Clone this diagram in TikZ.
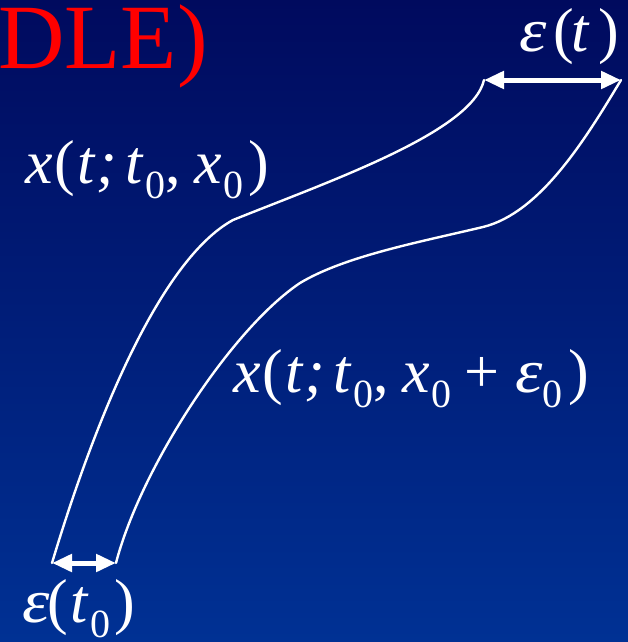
\RequirePackage{fix-cm}
\documentclass[tikz,border=0pt]{standalone}
\usepackage{fontspec}
\setmainfont{Liberation Serif}
\usetikzlibrary{arrows.meta}
\definecolor{bgtop}{RGB}{0,10,94}
\definecolor{bgbot}{RGB}{0,49,148}
\newcommand\vi[1]{\textit{#1}}
\newcommand\zs{\raisebox{-15pt}{\fontsize{40}{40}\selectfont 0}}
\newcommand\ep{\makebox[29pt][l]{\scalebox{1.12}[1]{\textit{ε}}}}
\tikzset{
  curve/.style={draw=white, line width=2.4pt, line join=round, line cap=round},
  width/.style={draw=white, line width=5pt, {Triangle[length=20pt,width=17pt]}-{Triangle[length=20pt,width=17pt]}},
  lab/.style={text=white, inner sep=0pt, font=\fontsize{62}{74}\selectfont},
}
\begin{document}
\begin{tikzpicture}[x=1pt,y=-1pt]
\shade[top color=bgtop, bottom color=bgbot] (0,0) rectangle (628,642);
\useasboundingbox (0,0) rectangle (628,642);
\node[anchor=base east, inner sep=0pt, text=red, font=\fontsize{92}{100}\selectfont] (title) at (208,69) {DLE)};
% end points
\coordinate (a0) at (52,563);
\coordinate (b0) at (116,563);
\coordinate (a1) at (484,80);
\coordinate (b1) at (621,80);
\coordinate (am) at (233,220);
\coordinate (bm) at (300,283);
\coordinate (bn) at (483,227);
% trajectories
\draw[curve] (a0) .. controls (95,420) and (160,260) .. (am)
             .. controls (330,181) and (472,132) .. (a1);
\draw[curve] (b0) .. controls (140,470) and (230,330) .. (bm)
             .. controls (345,256) and (420,242) .. (bn)
             .. controls (540,213) and (585,140) .. (b1);
% widths
\draw[width] (a0) -- (b0);
\draw[width] (a1) -- (b1);
% labels
\node[lab, anchor=base west] (l1) at (25,183) {\vi{x}\hspace{1.5pt}(\hspace{3pt}\vi{t}\vi{;}\hspace{9pt}\vi{t}\hspace{1.3pt}\zs,\hspace{13.5pt}\vi{x}\hspace{1.5pt}\zs\hspace{5pt})};
\node[lab, anchor=base west] (l2) at (233,392) {\vi{x}\hspace{1.5pt}(\hspace{3pt}\vi{t}\vi{;}\hspace{9pt}\vi{t}\hspace{1.3pt}\zs,\hspace{13.5pt}\vi{x}\hspace{1.5pt}\zs\hspace{13pt}+\hspace{16pt}\ep\hspace{-2pt}\zs\hspace{6pt})};
\node[lab, anchor=base west] (e1) at (519,52) {\ep\hspace{5pt}(\hspace{-2pt}\vi{t}\hspace{8pt})};
\node[lab, anchor=base west] (e0) at (22,622) {\ep\hspace{-4pt}(\hspace{3pt}\vi{t}\hspace{1.3pt}\zs\hspace{4pt})};
\end{tikzpicture}
\end{document}
